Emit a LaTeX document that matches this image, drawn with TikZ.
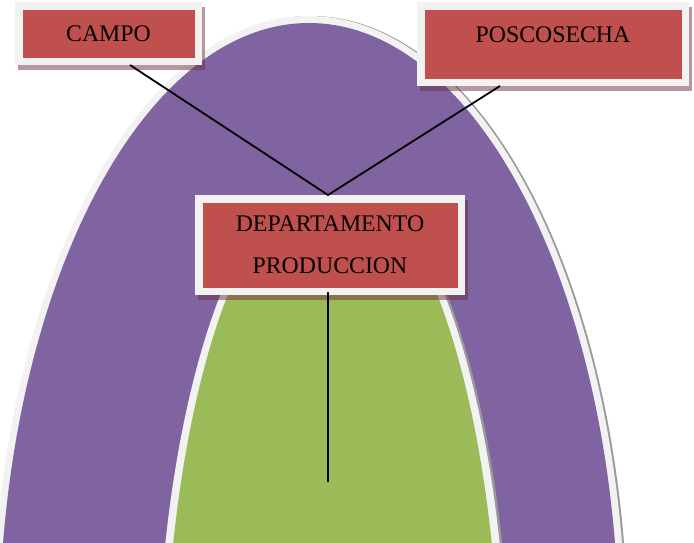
\documentclass[tikz,border=0pt]{standalone}
\usepackage{fontspec}
\setmainfont{Liberation Serif}
\usetikzlibrary{calc}
\definecolor{archpurple}{HTML}{8064A2}
\definecolor{archgreen}{HTML}{9BBB59}
\definecolor{boxred}{HTML}{C0504D}
\definecolor{rim}{HTML}{F2F2F2}
\definecolor{archshade}{HTML}{9A9A9A}
\definecolor{boxshade}{RGB}{110,50,60}
\begin{document}
\begin{tikzpicture}[x=1pt,y=-1pt,
  labelbox/.style={fill=boxred, draw=rim, line width=7.5pt, inner sep=0pt,
    font=\fontsize{23.8}{42}\selectfont, align=center,
    preaction={draw=boxshade, draw opacity=0.5, line width=7.5pt,
      transform canvas={xshift=3pt, yshift=-5pt}}},
  link/.style={draw=black, line width=1.8pt, line join=miter}]
\useasboundingbox (0,0) rectangle (694,542);
\clip (0,0) rectangle (694,542);
\fill[white] (0,0) rectangle (694,542);
% outer arch
\fill[archshade] (311,643) ellipse [x radius=317pt, y radius=627pt];
\fill[rim] (309,643) ellipse [x radius=317pt, y radius=627pt];
\fill[archpurple] (309,643) ellipse [x radius=310pt, y radius=620pt];
% inner arch (its top lies behind the central box)
\begin{scope}
\clip (0,205) rectangle (694,542);
\fill[archshade] (335,714) ellipse [x radius=176pt, y radius=544pt];
\fill[rim] (332.5,714) ellipse [x radius=176pt, y radius=544pt];
\fill[archgreen] (332.5,714) ellipse [x radius=168pt, y radius=536pt];
\end{scope}
% boxes
\node[labelbox, minimum width=179.5pt, minimum height=55.5pt] (campo) at (108.5,33.5) {CAMPO};
\node[labelbox, minimum width=264.5pt, minimum height=76.5pt,
      text height=15.8pt, text depth=19.8pt] (posco) at (553,44) {POSCOSECHA};
\node[labelbox, minimum width=262.5pt, minimum height=92.5pt] (dept) at (330,245) {DEPARTAMENTO\\PRODUCCION};
% connectors
\coordinate (apex) at ([xshift=-2pt]dept.north);
\coordinate (stemend) at (328,482);
\draw[link] ([xshift=21.5pt]campo.south) -- (apex) -- ([xshift=-53pt]posco.south);
\draw[link] ([xshift=-2pt,yshift=3pt]dept.south) -- (stemend);
\end{tikzpicture}
\end{document}
